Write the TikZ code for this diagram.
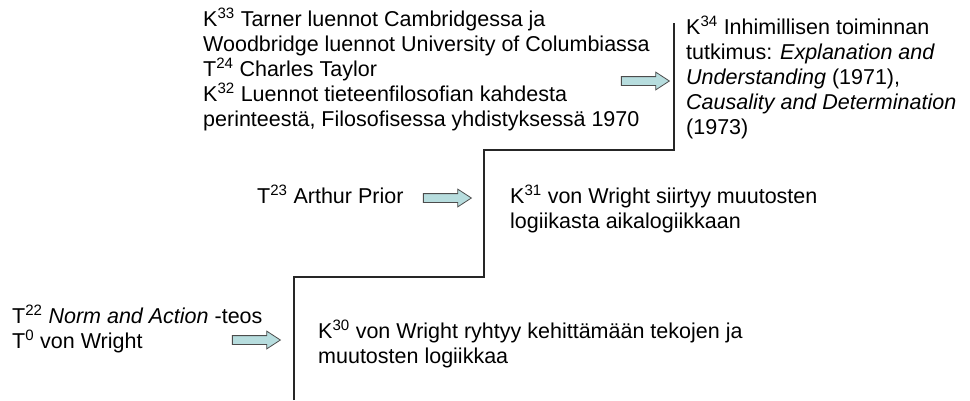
\documentclass[tikz,border=0pt]{standalone}
\usepackage{fontspec}
\setmainfont{Liberation Sans}
\usepackage{tikz}
\usetikzlibrary{shapes.arrows, positioning}

\tikzset{
	txt/.style={anchor=north west, align=left, inner sep=0pt, font=\fontsize{21.5}{25}\selectfont},
	blockarrow/.style={single arrow, draw=black!70, fill=arrowfill, line width=0.8pt,
		minimum height=48pt, minimum width=17pt, inner sep=4pt,
		single arrow head extend=4.5pt, single arrow tip angle=66}
}
\definecolor{arrowfill}{RGB}{183,221,222}

\begin{document}
\begin{tikzpicture}[x=1pt, y=-1pt]
		\useasboundingbox (0,0) rectangle (970,400);
		% Staircase
		\draw[line width=1.2pt, black!85] (294,400) -- (294,277) -- (484,277) -- (484,150) -- (674,150) -- (674,23);
		% Top step
		\node[txt] (lectures) at (203,8) {K\textsuperscript{33} Tarner luennot Cambridgessa ja\\
			Woodbridge luennot University of Columbiassa\\
			T\textsuperscript{24} Charles Taylor\\
			K\textsuperscript{32} Luennot tieteenfilosofian kahdesta\\
			perinteestä, Filosofisessa yhdistyksessä 1970};
		\node[txt] (inquiry) at (686,16) {K\textsuperscript{34} Inhimillisen toiminnan\\
			tutkimus: \textit{Explanation and}\\
			\textit{Understanding} (1971),\\
			\textit{Causality and Determination}\\
			(1973)};
		\node[blockarrow] (arrowtop) at (642,81) {};
		% Middle step
		\node[txt] (prior) at (257,185) {T\textsuperscript{23} Arthur Prior};
		\node[txt] (timelogic) at (510,185) {K\textsuperscript{31} von Wright siirtyy muutosten\\
			logiikasta aikalogiikkaan};
		\node[blockarrow] (arrowmid) at (444,198) {};
		% Lowest step
		\node[txt] (normaction) at (12,305) {T\textsuperscript{22} \textit{Norm and Action} -teos\\
			T\textsuperscript{0} von Wright};
		\node[txt] (actionlogic) at (318,320) {K\textsuperscript{30} von Wright ryhtyy kehittämään tekojen ja\\
			muutosten logiikkaa};
		\node[blockarrow] (arrowlow) at (253,340) {};
	\end{tikzpicture}
\end{document}
